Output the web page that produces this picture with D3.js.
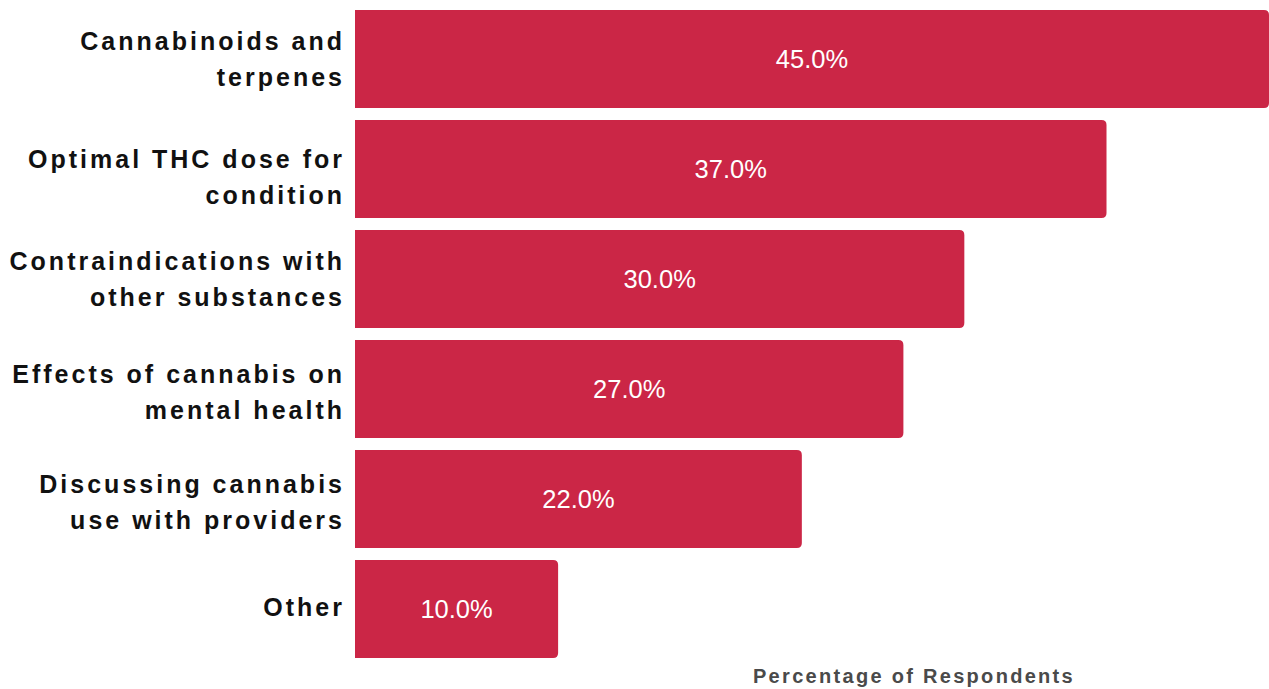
<!DOCTYPE html>
<html>
<head>
<meta charset="utf-8">
<script src="https://cdn.jsdelivr.net/npm/d3@7"></script>
<style>
  html, body { margin: 0; padding: 0; background: #ffffff; }
  svg { display: block; }
</style>
</head>
<body>
<svg id="chart" width="1269" height="689"></svg>
<script>
const categories = [
  "Cannabinoids and terpenes",
  "Optimal THC dose for condition",
  "Contraindications with other substances",
  "Effects of cannabis on mental health",
  "Discussing cannabis use with providers",
  "Other"
];
const values = [45.0, 37.0, 30.0, 27.0, 22.0, 10.0];
const xAxisTitle = "Percentage of Respondents";

// layout: small vertical nudges of the category labels as seen in the reference
const labelNudge = [0, 8, 0, 3, 3, -2];

const W = 1269, H = 689;
const svg = d3.select("#chart");
const barColor = "#cb2646";
const font = "'Liberation Sans', Arial, Helvetica, sans-serif";

const x = d3.scaleLinear().domain([0, 45]).range([355, 1269]);
const y = d3.scaleBand().domain(categories).range([-2, 670]).paddingInner(0.10909).paddingOuter(0.10909);

const data = categories.map((c, i) => ({ cat: c, val: values[i], i }));

// bars: square left, rounded right
function barPath(x0, x1, y0, h, r) {
  r = Math.min(r, (x1 - x0), h / 2);
  return `M${x0},${y0}H${x1 - r}Q${x1},${y0} ${x1},${y0 + r}V${y0 + h - r}Q${x1},${y0 + h} ${x1 - r},${y0 + h}H${x0}Z`;
}

svg.append("g").selectAll("path")
  .data(data)
  .join("path")
  .attr("d", d => barPath(x(0), x(d.val), y(d.cat), y.bandwidth(), 5))
  .attr("fill", barColor);

// value labels
svg.append("g").selectAll("text")
  .data(data)
  .join("text")
  .attr("x", d => (x(0) + x(d.val)) / 2)
  .attr("y", d => y(d.cat) + y.bandwidth() / 2)
  .attr("text-anchor", "middle")
  .attr("dominant-baseline", "central")
  .attr("fill", "#ffffff")
  .style("font-family", font)
  .style("font-size", "25.5px")
  .text(d => d.val.toFixed(1) + "%");

// category labels with wrapping
const labelG = svg.append("g");
const maxW = 340;
const lineH = 36;
data.forEach(d => {
  const t = labelG.append("text")
    .attr("text-anchor", "end")
    .attr("fill", "#111111")
    .style("font-family", font)
    .style("font-size", "25px")
    .style("font-weight", "bold")
    .style("letter-spacing", "3px");
  const words = d.cat.split(" ");
  const lines = [];
  let cur = [];
  const probe = t.append("tspan");
  words.forEach(w => {
    const test = cur.concat([w]).join(" ");
    probe.text(test);
    if (probe.node().getComputedTextLength() > maxW && cur.length) {
      lines.push(cur.join(" "));
      cur = [w];
    } else {
      cur.push(w);
    }
  });
  if (cur.length) lines.push(cur.join(" "));
  probe.remove();
  const cy = y(d.cat) + y.bandwidth() / 2 + labelNudge[d.i];
  const startY = cy - (lines.length - 1) * lineH / 2;
  lines.forEach((ln, i) => {
    t.append("tspan")
      .attr("x", 345)
      .attr("y", startY + i * lineH)
      .attr("dominant-baseline", "central")
      .text(ln);
  });
});

// axis title
svg.append("text")
  .attr("x", 914)
  .attr("y", 676)
  .attr("text-anchor", "middle")
  .attr("dominant-baseline", "central")
  .attr("fill", "#4a4a4a")
  .style("font-family", font)
  .style("font-size", "20px")
  .style("font-weight", "bold")
  .style("letter-spacing", "2.3px")
  .text(xAxisTitle);
</script>
</body>
</html>
